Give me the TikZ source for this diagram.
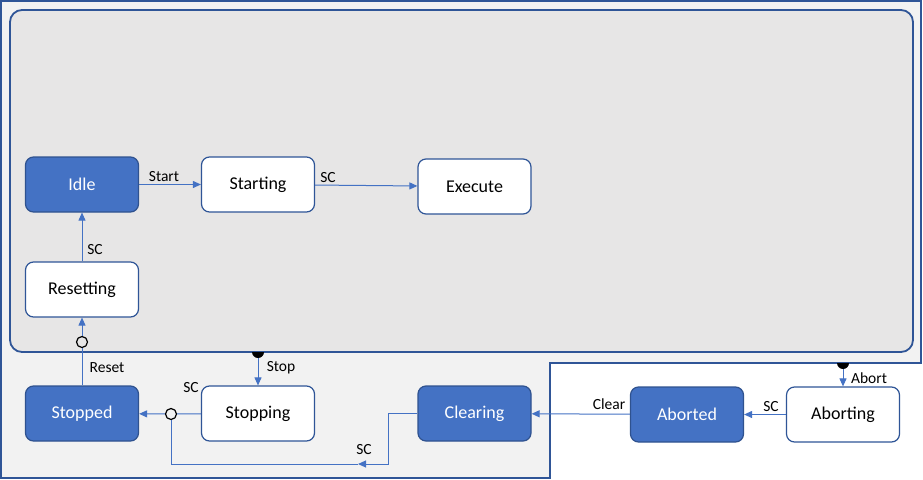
\documentclass[tikz,border=0pt]{standalone}
\usepackage{fontspec}
\setmainfont{Carlito}
\usetikzlibrary{arrows.meta}
\definecolor{frame}{HTML}{2F5597}
\definecolor{nodeblue}{HTML}{4472C4}
\definecolor{nodeedge}{HTML}{2F528F}
\definecolor{arrowblue}{HTML}{4472C4}
\definecolor{outerbg}{HTML}{F2F2F2}
\definecolor{innerbg}{HTML}{E7E6E6}
\begin{document}
\begin{tikzpicture}[x=1pt,y=-1pt,
  state/.style={draw=frame, line width=1.2pt, rounded corners=8pt, fill=white, minimum width=113pt, minimum height=55pt, font=\fontsize{18}{20}\selectfont},
  done/.style={state, fill=nodeblue, draw=nodeedge, text=white},
  tr/.style={draw=arrowblue, line width=1pt},
  ar/.style={tr, -{Triangle[length=8pt,width=7pt]}},
  lbl/.style={font=\fontsize{15.5}{17}\selectfont, inner sep=0pt},
  junc/.style={circle, draw=black, line width=1.2pt, inner sep=0pt, minimum size=11pt}]
\fill[white] (0,0) rectangle (923,479);
\useasboundingbox (0,0) rectangle (923,479);
\filldraw[fill=outerbg, draw=frame, line width=1.5pt] (1,1) -- (921,1) -- (921,363) -- (550,363) -- (550,478) -- (1,478) -- cycle;
\filldraw[fill=innerbg, draw=frame, line width=1.8pt, rounded corners=12pt] (10,10) rectangle (913,352);

\node[done] (idle) at (82,184.5) {Idle};
\node[state] (starting) at (258,184.5) {Starting};
\node[state] (execute) at (474.5,186.5) {Execute};
\node[state] (resetting) at (82,289.5) {Resetting};
\node[done] (stopped) at (82,413.5) {Stopped};
\node[state] (stopping) at (258,413.5) {Stopping};
\node[done] (clearing) at (474.5,413.5) {Clearing};
\node[done] (aborted) at (687,414.5) {Aborted};
\node[state] (aborting) at (843,414.5) {Aborting};

\node[junc, fill=innerbg] (rj) at (82,342) {};
\node[junc, fill=outerbg] (sj) at (171,414) {};
\coordinate (stopsrc) at (258,352);
\coordinate (abortsrc) at (843,363);
\coordinate (cbend) at (388,464);
\coordinate (cmid) at (358,464);
\coordinate (cend) at (171,464);

\draw[ar] (idle) -- (starting);
\draw[ar] (starting) -- (execute);
\draw[ar] (resetting) -- (idle);
\draw[tr] (stopped) -- (rj);
\draw[ar] (rj) -- (resetting);
\draw[ar] (stopsrc) -- (stopping);
\draw[tr] (stopping) -- (sj);
\draw[ar] (sj) -- (stopped);
\draw[ar] (clearing.west) -| (cbend) -- (cmid);
\draw[tr] (cmid) -- (cend) -- (sj);
\draw[ar] (aborted) -- (clearing);
\draw[ar] (aborting) -- (aborted);
\draw[ar] (abortsrc) -- (aborting);
\fill (252,352) arc[start angle=180, end angle=360, radius=6pt];
\fill (837,363) arc[start angle=180, end angle=360, radius=6pt];

\node[lbl] (lstart) at (164,177) {Start};
\node[lbl] (lsc1) at (328,178) {SC};
\node[lbl] (lsc2) at (95,250) {SC};
\node[lbl] (lreset) at (107,368) {Reset};
\node[lbl] (lstop) at (281,368) {Stop};
\node[lbl] (lsc3) at (191,388) {SC};
\node[lbl] (lsc4) at (364,450) {SC};
\node[lbl] (lclear) at (609,404) {Clear};
\node[lbl] (lsc5) at (771,407) {SC};
\node[lbl] (labort) at (869,378) {Abort};
\end{tikzpicture}
\end{document}
